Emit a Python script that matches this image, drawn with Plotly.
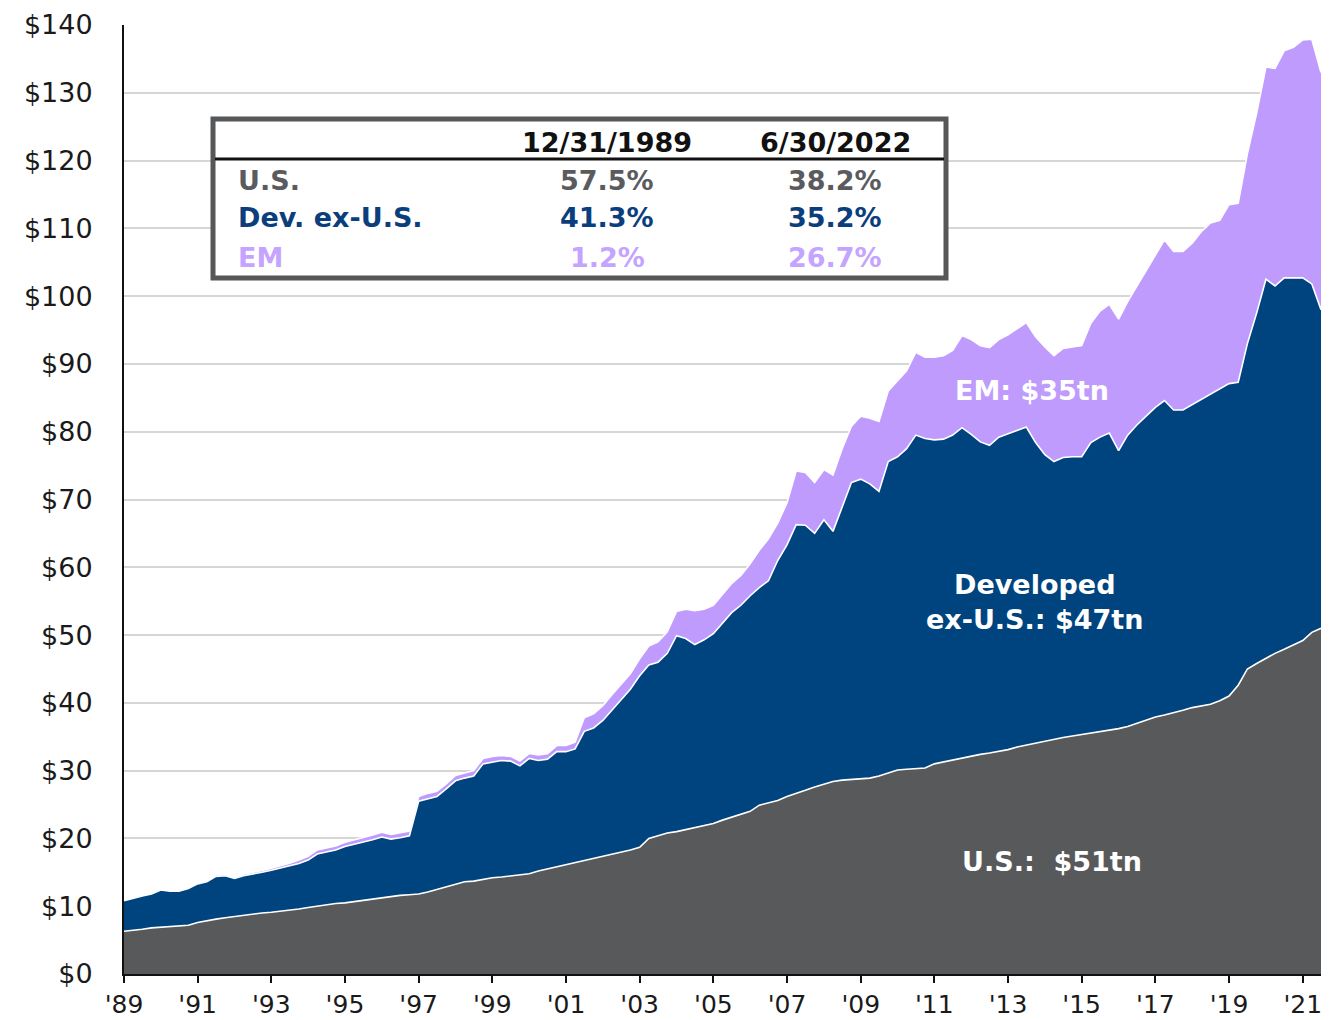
import plotly.graph_objects as go

# Quarter-end dates 12/31/1989 .. 6/30/2022
quarter_ends = []
for i in range(131):
    k = i + 3  # 1989-Q4 is index 3 of 1989
    yr = 1989 + k // 4
    q = k % 4
    md = ["03-31", "06-30", "09-30", "12-31"][q]
    quarter_ends.append(f"{yr}-{md}")

# Market cap, USD trillions
us = [6.3, 6.4, 6.6, 6.8, 6.9, 7.0, 7.1, 7.2, 7.6, 7.9,
      8.1, 8.3, 8.5, 8.7, 8.8, 9.0, 9.1, 9.3, 9.5, 9.6,
      9.8, 10.0, 10.2, 10.4, 10.5, 10.7, 10.9, 11.1, 11.3, 11.4,
      11.6, 11.7, 11.8, 12.1, 12.5, 12.9, 13.2, 13.6, 13.7, 14.0,
      14.2, 14.3, 14.5, 14.6, 14.8, 15.2, 15.5, 15.9, 16.2, 16.5,
      16.8, 17.1, 17.4, 17.7, 18.0, 18.3, 18.7, 20.0, 20.4, 20.8,
      21.0, 21.3, 21.6, 21.8, 22.2, 22.7, 23.1, 23.5, 24.0, 24.9,
      25.2, 25.6, 26.2, 26.6, 27.1, 27.6, 28.0, 28.4, 28.6, 28.7,
      28.8, 28.9, 29.2, 29.6, 30.1, 30.2, 30.3, 30.4, 31.0, 31.3,
      31.5, 31.8, 32.1, 32.4, 32.6, 32.8, 33.1, 33.5, 33.8, 34.0,
      34.3, 34.6, 34.9, 35.1, 35.3, 35.5, 35.8, 36.0, 36.2, 36.5,
      37.0, 37.5, 37.9, 38.2, 38.5, 38.9, 39.3, 39.5, 39.8, 40.3,
      41.0, 42.6, 45.0, 45.8, 46.6, 47.3, 47.9, 48.5, 49.2, 50.4,
      51.0]

dev_ex_us = [4.5, 4.8, 4.9, 5.0, 5.5, 5.2, 5.1, 5.4, 5.7, 5.7,
             6.3, 6.2, 5.6, 5.8, 5.9, 6.0, 6.2, 6.3, 6.4, 6.7,
             7.0, 7.7, 7.8, 7.9, 8.3, 8.4, 8.6, 8.7, 8.9, 8.5,
             8.5, 8.7, 13.7, 13.8, 13.7, 14.4, 15.3, 15.3, 15.5, 17.0,
             17.1, 17.2, 16.9, 16.1, 17.0, 16.3, 16.2, 16.9, 16.6, 16.7,
             19.0, 19.2, 20.0, 21.2, 22.5, 23.7, 25.3, 25.6, 25.6, 26.5,
             28.9, 28.2, 27.0, 27.5, 28.0, 29.1, 30.2, 30.9, 31.8, 32.1,
             32.8, 35.4, 37.1, 39.7, 39.1, 37.4, 39.0, 36.9, 40.4, 43.8,
             44.2, 43.4, 42.0, 46.0, 46.2, 47.3, 49.2, 48.6, 47.8, 47.6,
             48.0, 48.8, 47.5, 46.1, 45.4, 46.4, 46.6, 46.7, 46.9, 44.4,
             42.3, 41.0, 41.3, 41.2, 41.0, 42.9, 43.4, 43.8, 41.0, 43.0,
             44.0, 44.8, 45.7, 46.4, 44.7, 44.3, 44.7, 45.3, 45.7, 46.0,
             46.1, 44.7, 48.0, 51.7, 55.9, 54.2, 54.8, 54.2, 53.5, 51.4,
             47.0]

em = [0.13, 0.13, 0.14, 0.15, 0.15, 0.15, 0.15, 0.16, 0.17, 0.18,
      0.2, 0.2, 0.2, 0.22, 0.25, 0.28, 0.3, 0.35, 0.45, 0.5,
      0.55, 0.6, 0.6, 0.6, 0.65, 0.65, 0.65, 0.7, 0.7, 0.7,
      0.7, 0.7, 0.7, 0.75, 0.75, 0.75, 0.8, 0.8, 0.8, 0.8,
      0.8, 0.75, 0.7, 0.7, 0.75, 0.8, 0.8, 0.9, 0.9, 1.0,
      2.0, 2.1, 2.2, 2.3, 2.3, 2.3, 2.5, 2.8, 3.0, 3.2,
      3.6, 4.3, 5.0, 4.5, 4.2, 4.2, 4.3, 4.4, 4.7, 5.5,
      6.2, 5.5, 6.2, 7.9, 7.8, 7.5, 7.4, 8.3, 8.5, 8.3,
      9.3, 9.7, 10.3, 10.4, 11.2, 11.5, 12.2, 12.0, 12.2, 12.3,
      12.5, 13.6, 14.0, 14.2, 14.4, 14.4, 14.6, 15.0, 15.4, 15.6,
      15.9, 15.6, 16.1, 16.2, 16.4, 17.6, 18.6, 19.0, 19.4, 19.7,
      20.5, 21.5, 22.4, 23.7, 23.4, 23.4, 23.8, 24.7, 25.3, 24.9,
      26.4, 26.4, 28.0, 29.5, 31.3, 32.1, 33.5, 34.0, 35.1, 36.1,
      35.0]

assert len(us) == len(dev_ex_us) == len(em) == len(quarter_ends)

tick_years = list(range(1989, 2022, 2))
tick_vals = [f"{y}-12-31" for y in tick_years]
tick_text = [f"'{y % 100:02d}" for y in tick_years]
y_ticks = list(range(0, 141, 10))
y_tick_text = [f"${v}" for v in y_ticks]

# Table content
table_headers = ["12/31/1989", "6/30/2022"]
table_rows = ["U.S.", "Dev. ex-U.S.", "EM"]
share_1989 = ["57.5%", "41.3%", "1.2%"]
share_2022 = ["38.2%", "35.2%", "26.7%"]

C_US = "#58595B"
C_DEV = "#00447F"
C_EM = "#BE9BFC"
TXT_US = "#5A5B5E"
TXT_DEV = "#0B3E7C"
TXT_EM = "#C4A4FF"

fig = go.Figure()
for name, vals, col in [("U.S.", us, C_US), ("Dev. ex-U.S.", dev_ex_us, C_DEV), ("EM", em, C_EM)]:
    fig.add_trace(go.Scatter(
        x=quarter_ends, y=vals, name=name, mode="lines",
        stackgroup="one", fillcolor=col,
        line=dict(color="white", width=1.6),
        hoverinfo="x+y+name"))

FONT = "DejaVu Sans"

# The page body has an 8px margin, so the figure is 16px smaller than the window
fig.update_layout(
    width=1322, height=1012,
    margin=dict(l=116, r=9, t=17, b=46),
    paper_bgcolor="white", plot_bgcolor="white",
    showlegend=False,
    font=dict(family=FONT, color="#1a1a1a"),
    xaxis=dict(
        type="date", range=["1989-12-31", "2022-06-30"],
        tickvals=tick_vals, ticktext=tick_text,
        showgrid=False, zeroline=False, automargin=False,
        showline=True, linecolor="#111111", linewidth=2,
        ticks="outside", ticklen=7, tickwidth=1.5, tickcolor="#111111",
        ticklabeloverflow="allow",
        tickfont=dict(family=FONT, size=25, color="#1a1a1a"),
    ),
    yaxis=dict(
        range=[0, 140], tickvals=y_ticks, ticktext=y_tick_text,
        showgrid=True, gridcolor="#D6D6D6", gridwidth=1.5,
        zeroline=False, automargin=False,
        showline=True, linecolor="#111111", linewidth=2,
        ticks="", ticklabelstandoff=24,
        ticklabeloverflow="allow",
        tickfont=dict(family=FONT, size=27, color="#1a1a1a"),
    ),
)

# Positions given in screen pixels of the plot area (124..1321 x 25..974)
def px_x(px):
    return (px - 124) / 1197.0

def px_y(py):
    return (974 - py) / 949.0

fig.add_shape(type="rect", xref="paper", yref="paper",
              x0=px_x(213), x1=px_x(946), y0=px_y(278), y1=px_y(119),
              line=dict(color="#555759", width=5), fillcolor="white", layer="above")
fig.add_shape(type="line", xref="paper", yref="paper",
              x0=px_x(215), x1=px_x(944), y0=px_y(159), y1=px_y(159),
              line=dict(color="#111111", width=3), layer="above")

col_x = [px_x(607), px_x(835)]
row_y = [px_y(180), px_y(218), px_y(257)]
row_cols = [TXT_US, TXT_DEV, TXT_EM]

for cx, h in zip(col_x, table_headers):
    fig.add_annotation(x=cx, y=px_y(142), xref="paper", yref="paper", text=h,
                       showarrow=False, xanchor="center", yanchor="middle",
                       font=dict(family=FONT, size=27, color="#111111", weight="bold"))
for ry, lab, c, v1, v2 in zip(row_y, table_rows, row_cols, share_1989, share_2022):
    fig.add_annotation(x=px_x(236), y=ry, xref="paper", yref="paper", text=lab,
                       showarrow=False, xanchor="left", yanchor="middle",
                       font=dict(family=FONT, size=27, color=c, weight="bold"))
    fig.add_annotation(x=col_x[0], y=ry, xref="paper", yref="paper", text=v1,
                       showarrow=False, xanchor="center", yanchor="middle",
                       font=dict(family=FONT, size=27, color=c, weight="bold"))
    fig.add_annotation(x=col_x[1], y=ry, xref="paper", yref="paper", text=v2,
                       showarrow=False, xanchor="center", yanchor="middle",
                       font=dict(family=FONT, size=27, color=c, weight="bold"))

# Area labels
labels = [
    ("EM: $35tn", 1032, 391),
    ("Developed<br>ex-U.S.: $47tn", 1035, 602),
    ("U.S.:  $51tn", 1052, 861),
]
for txt, lx, ly in labels:
    fig.add_annotation(x=px_x(lx), y=px_y(ly), xref="paper", yref="paper", text=txt,
                       showarrow=False, xanchor="center", yanchor="middle",
                       font=dict(family=FONT, size=27, color="white", weight="bold"))

fig.write_html("out.html")
